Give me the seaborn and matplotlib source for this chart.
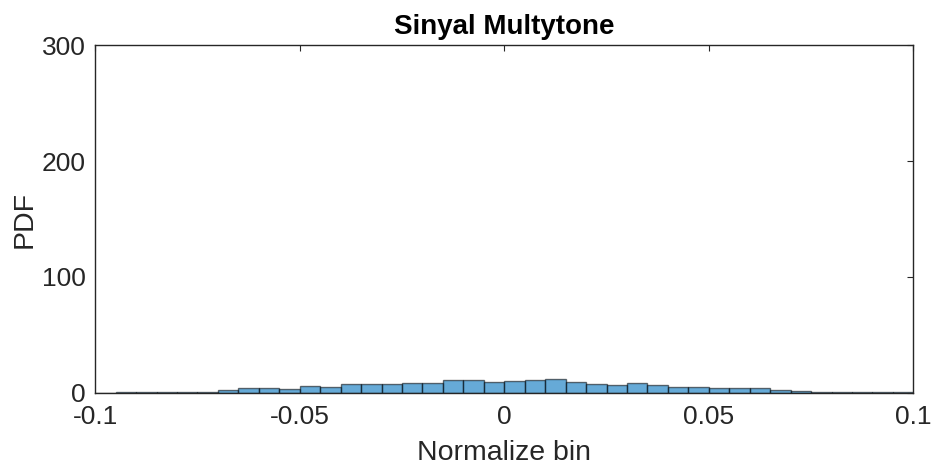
import numpy as np
import pandas as pd
import matplotlib
matplotlib.use("Agg")
import matplotlib.pyplot as plt
import seaborn as sns

# Histogram bin edges (width 0.005 from -0.1 to 0.1)
bin_edges = [round(-0.1 + 0.005 * i, 3) for i in range(41)]
# PDF heights, one per bin
pdf_values = [0.0, 1.1, 0.6, 0.6, 0.5, 1.0, 2.3, 4.0, 4.0, 3.2,
              6.3, 4.9, 7.8, 7.8, 7.5, 8.6, 8.6, 10.9, 10.9, 9.2,
              10.3, 10.9, 11.8, 9.2, 7.5, 6.9, 8.6, 6.9, 5.2, 5.2,
              4.3, 4.3, 4.3, 2.3, 1.2, 0.5, 0.5, 1.0, 0.5, 0.5]
x_ticks = [-0.1, -0.05, 0, 0.05, 0.1]
x_tick_labels = ["-0.1", "-0.05", "0", "0.05", "0.1"]
y_ticks = [0, 100, 200, 300]
y_tick_labels = ["0", "100", "200", "300"]

centers = [(bin_edges[i] + bin_edges[i + 1]) / 2 for i in range(len(pdf_values))]
df = pd.DataFrame({"bin": centers, "pdf": pdf_values})

sns.set_style("white")
plt.rcParams["font.family"] = ["Liberation Sans", "DejaVu Sans"]

fig = plt.figure(figsize=(9.33, 4.71), dpi=100)
ax = fig.add_axes([0.102, 0.166, 0.877, 0.738])

sns.histplot(data=df, x="bin", weights="pdf", bins=bin_edges, stat="count",
             color=(0.0, 0.447, 0.741), alpha=0.6, edgecolor=(0, 0, 0, 0.55),
             linewidth=1.0, ax=ax)

ax.set_xlim(-0.1, 0.1)
ax.set_ylim(0, 300)
ax.set_xticks(x_ticks)
ax.set_xticklabels(x_tick_labels)
ax.set_yticks(y_ticks)
ax.set_yticklabels(y_tick_labels)
txt = "#262626"
ax.tick_params(direction="in", length=4.5, width=0.8, colors=txt, labelsize=19,
               top=True, right=True)
ax.tick_params(axis="x", pad=9)
ax.tick_params(axis="y", pad=7)
for s in ax.spines.values():
    s.set_visible(True)
    s.set_color(txt)
    s.set_linewidth(1.0)
ax.set_xlabel("Normalize bin", fontsize=20.5, color=txt, labelpad=8)
ax.set_ylabel("PDF", fontsize=20.5, color=txt, labelpad=3)
ax.set_title("Sinyal Multytone", fontsize=20, fontweight="bold", color="black", pad=8)

fig.savefig("out.png", dpi=100)
